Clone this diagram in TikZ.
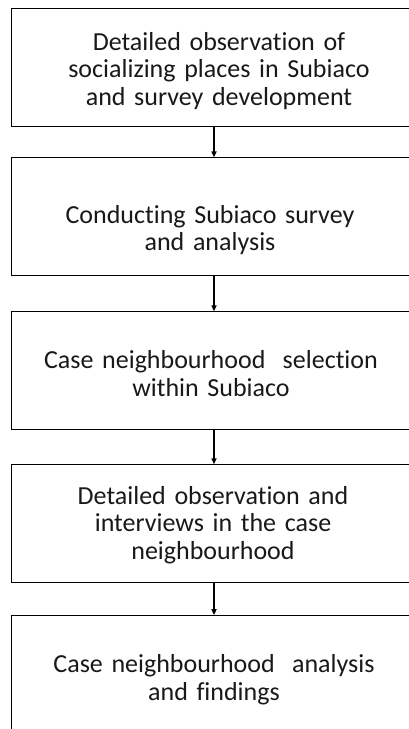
\documentclass[tikz,border=0pt]{standalone}
\usepackage{fontspec}
\setmainfont{Carlito}[Ligatures=NoCommon]
\usetikzlibrary{positioning,arrows.meta}
\tikzset{
  stagebox/.style={draw=black, fill=white, line width=0.9pt, rectangle,
    minimum width=406pt, minimum height=118pt},
  stagetext/.style={text width=400pt, align=center,
    font=\fontsize{26}{27.5}\selectfont, text=black!90},
  flowarrow/.style={-{Triangle[length=6pt,width=5pt]}, line width=1.5pt},
}

\begin{document}
\begin{tikzpicture}[x=1pt, y=1pt, node distance=33pt]
\useasboundingbox (0,0) rectangle (409,-729);
\clip (0,0) rectangle (409,-729);

% frames
\node [stagebox] (observe) at (214,-67) {};
\node [stagebox, below=31pt of observe] (survey) {};
\node [stagebox, below=35pt of survey] (select) {};
\node [stagebox, below=34pt of select] (interview) {};
\node [stagebox, below=32pt of interview] (findings) {};

% texts
\node [stagetext, xshift=5pt, yshift=-4pt] (observe-text) at (observe)
  {Detailed observation of\\ socializing places in Subiaco\\ and survey development};
\node [stagetext, xshift=-4pt, yshift=-13pt] (survey-text) at (survey)
  {Conducting Subiaco survey\\ and analysis};
\node [stagetext, xshift=-3pt, yshift=-3pt] (select-text) at (select)
  {Case neighbourhood\ \ selection\\ within Subiaco};
\node [stagetext, xshift=-1pt, yshift=-1pt] (interview-text) at (interview)
  {Detailed observation and\\ interviews in the case\\ neighbourhood};
\node [stagetext, yshift=-5pt] (findings-text) at (findings)
  {Case neighbourhood\ \ analysis\\ and findings};

% arrows between stages
\draw [flowarrow] (observe) -- (survey);
\draw [flowarrow] (survey) -- (select);
\draw [flowarrow] (select) -- (interview);
\draw [flowarrow] (interview) -- (findings);
\end{tikzpicture}
\end{document}
